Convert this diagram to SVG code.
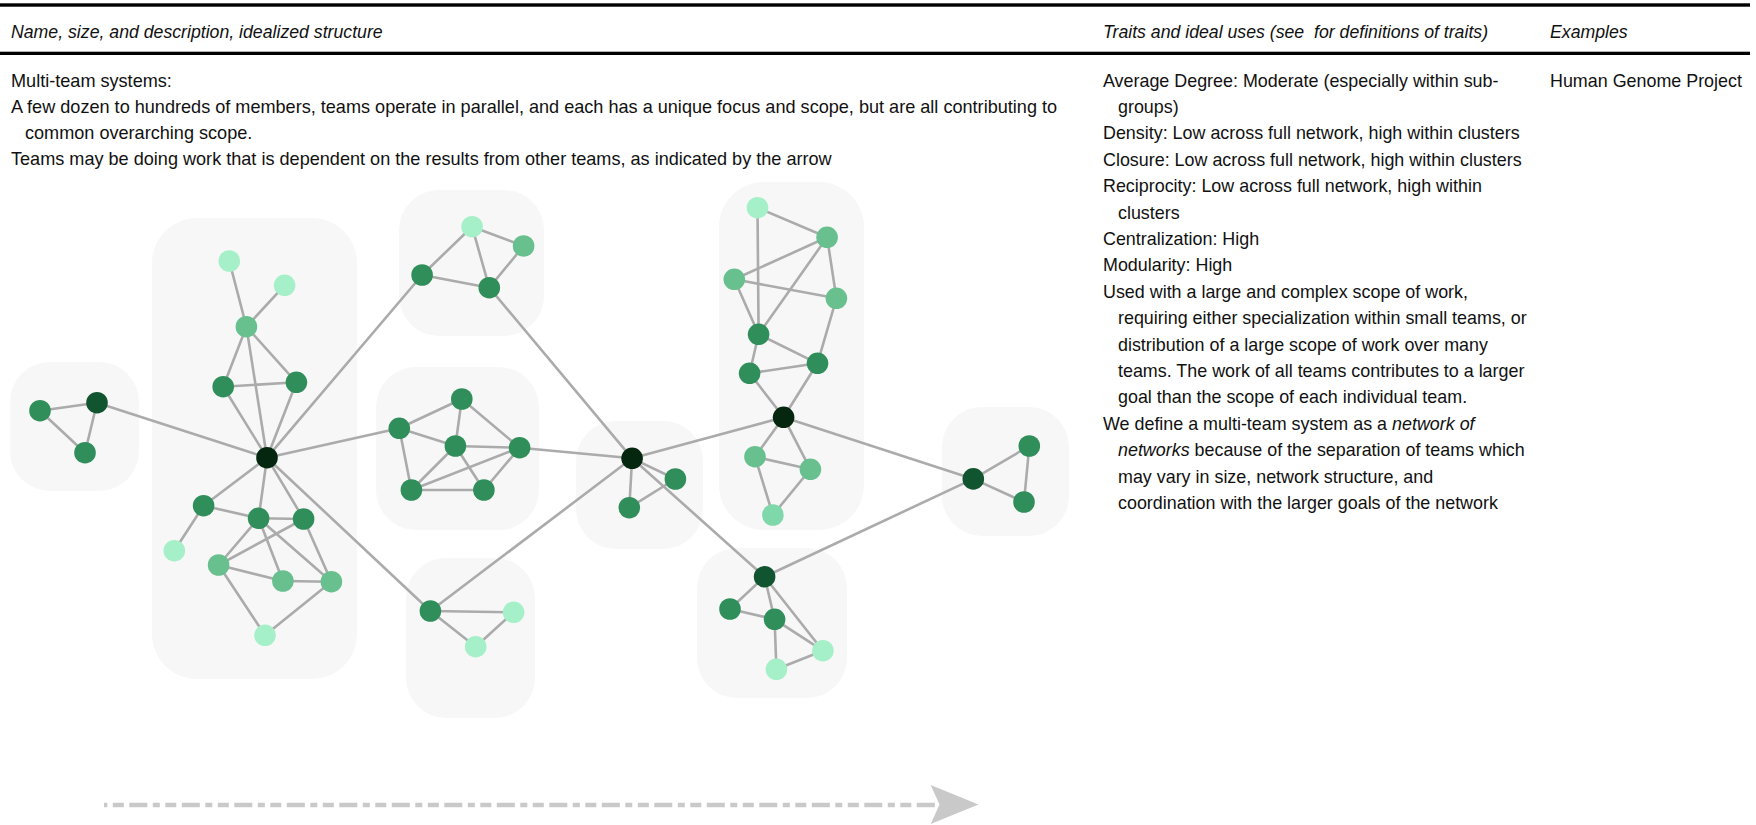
<svg xmlns="http://www.w3.org/2000/svg" width="1756" height="825" viewBox="0 0 1756 825">
<style>
.t{font-family:"Liberation Sans",Arial,sans-serif;font-size:18.1px;fill:#111}
.r{font-size:17.9px}
.i{font-style:italic}
.hd{font-size:17.7px}
.box{fill:#f7f7f7}
.e line{stroke:#ababab;stroke-width:2.6;stroke-linecap:round}
.hub{fill:#05260f}.dk{fill:#115530}.dm{fill:#2f8e5a}.ml{fill:#67c08e}.lt{fill:#a6f0c9}.lm{fill:#7fd8a9}
</style>
<rect x="0" y="3.3" width="1750" height="3.4" fill="#000"/>
<rect x="0" y="51.7" width="1750" height="3.3" fill="#000"/>
<g id="header">
<text class="t i hd" x="11" y="38">Name, size, and description, idealized structure</text>
<text class="t i hd" x="1103" y="38" xml:space="preserve">Traits and ideal uses (see  for definitions of traits)</text>
<text class="t i hd" x="1550" y="38">Examples</text>
</g>
<g id="description">
<text class="t" x="11" y="86.5">Multi-team systems:</text>
<text class="t" x="11" y="112.8">A few dozen to hundreds of members, teams operate in parallel, and each has a unique focus and scope, but are all contributing to</text>
<text class="t" x="25" y="139.1">common overarching scope.</text>
<text class="t" x="11" y="165.4">Teams may be doing work that is dependent on the results from other teams, as indicated by the arrow</text>
</g>
<g id="traits">
<text class="t r" x="1103" y="86.5">Average Degree: Moderate (especially within sub-</text>
<text class="t r" x="1118" y="112.9">groups)</text>
<text class="t r" x="1103" y="139.3">Density: Low across full network, high within clusters</text>
<text class="t r" x="1103" y="165.7">Closure: Low across full network, high within clusters</text>
<text class="t r" x="1103" y="192.1">Reciprocity: Low across full network, high within</text>
<text class="t r" x="1118" y="218.5">clusters</text>
<text class="t r" x="1103" y="244.9">Centralization: High</text>
<text class="t r" x="1103" y="271.3">Modularity: High</text>
<text class="t r" x="1103" y="297.7">Used with a large and complex scope of work,</text>
<text class="t r" x="1118" y="324.1">requiring either specialization within small teams, or</text>
<text class="t r" x="1118" y="350.5">distribution of a large scope of work over many</text>
<text class="t r" x="1118" y="376.9">teams. The work of all teams contributes to a larger</text>
<text class="t r" x="1118" y="403.3">goal than the scope of each individual team.</text>
<text class="t r" x="1103" y="429.7">We define a multi-team system as a <tspan class="i">network of</tspan></text>
<text class="t r" x="1118" y="456.1"><tspan class="i">networks</tspan> because of the separation of teams which</text>
<text class="t r" x="1118" y="482.5">may vary in size, network structure, and</text>
<text class="t r" x="1118" y="508.9">coordination with the larger goals of the network</text>
</g>
<g id="examples">
<text class="t r" x="1550" y="86.5">Human Genome Project</text>
</g>
<g id="clusters">
<rect id="team1" class="box" x="10" y="362" width="129" height="129" rx="40"/>
<rect id="team2" class="box" x="152" y="218" width="205" height="461" rx="45"/>
<rect id="team3" class="box" x="399" y="190" width="145" height="146" rx="40"/>
<rect id="team4" class="box" x="376" y="367" width="163" height="163" rx="40"/>
<rect id="team5" class="box" x="406" y="558" width="129" height="160" rx="40"/>
<rect id="team6" class="box" x="576" y="421" width="127" height="128" rx="40"/>
<rect id="team7" class="box" x="719" y="182" width="145" height="348" rx="45"/>
<rect id="team8" class="box" x="697" y="548" width="150" height="150" rx="40"/>
<rect id="team9" class="box" x="942" y="407" width="127" height="129" rx="40"/>
</g>
<g id="connectors" class="e">
<line x1="40" y1="410.7" x2="97" y2="402.7"/>
<line x1="40" y1="410.7" x2="85" y2="452.7"/>
<line x1="97" y1="402.7" x2="85" y2="452.7"/>
<line x1="229.3" y1="261" x2="246.4" y2="326.7"/>
<line x1="284.6" y1="285.3" x2="246.4" y2="326.7"/>
<line x1="246.4" y1="326.7" x2="223.2" y2="386.7"/>
<line x1="246.4" y1="326.7" x2="296.4" y2="382.3"/>
<line x1="246.4" y1="326.7" x2="267" y2="457.7"/>
<line x1="223.2" y1="386.7" x2="296.4" y2="382.3"/>
<line x1="223.2" y1="386.7" x2="267" y2="457.7"/>
<line x1="296.4" y1="382.3" x2="267" y2="457.7"/>
<line x1="267" y1="457.7" x2="203.6" y2="505.7"/>
<line x1="267" y1="457.7" x2="258.6" y2="518.3"/>
<line x1="267" y1="457.7" x2="303.6" y2="519"/>
<line x1="203.6" y1="505.7" x2="174.3" y2="550.7"/>
<line x1="203.6" y1="505.7" x2="258.6" y2="518.3"/>
<line x1="258.6" y1="518.3" x2="303.6" y2="519"/>
<line x1="258.6" y1="518.3" x2="218.6" y2="565"/>
<line x1="258.6" y1="518.3" x2="282.9" y2="581"/>
<line x1="258.6" y1="518.3" x2="331.4" y2="581.7"/>
<line x1="303.6" y1="519" x2="218.6" y2="565"/>
<line x1="303.6" y1="519" x2="331.4" y2="581.7"/>
<line x1="218.6" y1="565" x2="282.9" y2="581"/>
<line x1="282.9" y1="581" x2="331.4" y2="581.7"/>
<line x1="218.6" y1="565" x2="265" y2="635.3"/>
<line x1="331.4" y1="581.7" x2="265" y2="635.3"/>
<line x1="472.1" y1="226.7" x2="523.6" y2="246"/>
<line x1="472.1" y1="226.7" x2="422.1" y2="275"/>
<line x1="472.1" y1="226.7" x2="489.3" y2="287.7"/>
<line x1="523.6" y1="246" x2="489.3" y2="287.7"/>
<line x1="422.1" y1="275" x2="489.3" y2="287.7"/>
<line x1="399.3" y1="428.3" x2="461.8" y2="399"/>
<line x1="461.8" y1="399" x2="455.4" y2="446"/>
<line x1="461.8" y1="399" x2="519.6" y2="447.7"/>
<line x1="399.3" y1="428.3" x2="455.4" y2="446"/>
<line x1="399.3" y1="428.3" x2="411.4" y2="490"/>
<line x1="455.4" y1="446" x2="519.6" y2="447.7"/>
<line x1="455.4" y1="446" x2="411.4" y2="490"/>
<line x1="455.4" y1="446" x2="483.9" y2="490"/>
<line x1="519.6" y1="447.7" x2="411.4" y2="490"/>
<line x1="519.6" y1="447.7" x2="483.9" y2="490"/>
<line x1="411.4" y1="490" x2="483.9" y2="490"/>
<line x1="430.4" y1="611" x2="513.6" y2="612.3"/>
<line x1="430.4" y1="611" x2="475.7" y2="646.7"/>
<line x1="513.6" y1="612.3" x2="475.7" y2="646.7"/>
<line x1="632.1" y1="458.3" x2="675.4" y2="479"/>
<line x1="632.1" y1="458.3" x2="629.3" y2="507.7"/>
<line x1="675.4" y1="479" x2="629.3" y2="507.7"/>
<line x1="757.5" y1="207.7" x2="827.1" y2="237.3"/>
<line x1="757.5" y1="207.7" x2="758.6" y2="334.3"/>
<line x1="827.1" y1="237.3" x2="734.3" y2="279.3"/>
<line x1="827.1" y1="237.3" x2="836.4" y2="298.3"/>
<line x1="827.1" y1="237.3" x2="758.6" y2="334.3"/>
<line x1="734.3" y1="279.3" x2="836.4" y2="298.3"/>
<line x1="734.3" y1="279.3" x2="758.6" y2="334.3"/>
<line x1="836.4" y1="298.3" x2="817.5" y2="363.3"/>
<line x1="758.6" y1="334.3" x2="749.6" y2="373.3"/>
<line x1="758.6" y1="334.3" x2="817.5" y2="363.3"/>
<line x1="749.6" y1="373.3" x2="817.5" y2="363.3"/>
<line x1="749.6" y1="373.3" x2="783.6" y2="417.3"/>
<line x1="817.5" y1="363.3" x2="783.6" y2="417.3"/>
<line x1="783.6" y1="417.3" x2="755" y2="456.7"/>
<line x1="783.6" y1="417.3" x2="810.4" y2="469.3"/>
<line x1="755" y1="456.7" x2="810.4" y2="469.3"/>
<line x1="755" y1="456.7" x2="772.9" y2="515"/>
<line x1="810.4" y1="469.3" x2="772.9" y2="515"/>
<line x1="764.6" y1="576.7" x2="730" y2="609"/>
<line x1="764.6" y1="576.7" x2="774.6" y2="619.3"/>
<line x1="764.6" y1="576.7" x2="822.9" y2="650.7"/>
<line x1="730" y1="609" x2="774.6" y2="619.3"/>
<line x1="774.6" y1="619.3" x2="822.9" y2="650.7"/>
<line x1="774.6" y1="619.3" x2="776.4" y2="669.3"/>
<line x1="822.9" y1="650.7" x2="776.4" y2="669.3"/>
<line x1="973.3" y1="478.9" x2="1029.3" y2="446"/>
<line x1="973.3" y1="478.9" x2="1024" y2="502"/>
<line x1="1029.3" y1="446" x2="1024" y2="502"/>
<line x1="97" y1="402.7" x2="267" y2="457.7"/>
<line x1="267" y1="457.7" x2="422.1" y2="275"/>
<line x1="267" y1="457.7" x2="399.3" y2="428.3"/>
<line x1="267" y1="457.7" x2="430.4" y2="611"/>
<line x1="489.3" y1="287.7" x2="632.1" y2="458.3"/>
<line x1="519.6" y1="447.7" x2="632.1" y2="458.3"/>
<line x1="430.4" y1="611" x2="632.1" y2="458.3"/>
<line x1="632.1" y1="458.3" x2="783.6" y2="417.3"/>
<line x1="632.1" y1="458.3" x2="764.6" y2="576.7"/>
<line x1="783.6" y1="417.3" x2="973.3" y2="478.9"/>
<line x1="764.6" y1="576.7" x2="973.3" y2="478.9"/>
<line x1="104" y1="805" x2="937" y2="805" style="stroke:#c9c9c9;stroke-width:4.7;stroke-linecap:butt;stroke-dasharray:18 5.5 7 5.5 11 5.5;stroke-dashoffset:27.2"/>
<polygon points="930.7,785 978.5,804.5 930.7,824 939.5,804.5" fill="#c9c9c9"/>
</g>
<g id="n1a"><circle class="dm" cx="40" cy="410.7" r="10.8"/></g>
<g id="n1b"><circle class="dk" cx="97" cy="402.7" r="10.8"/></g>
<g id="n1c"><circle class="dm" cx="85" cy="452.7" r="10.8"/></g>
<g id="h1"><circle class="hub" cx="267" cy="457.7" r="10.8"/></g>
<g id="n2a"><circle class="lt" cx="229.3" cy="261" r="10.8"/></g>
<g id="n2b"><circle class="lt" cx="284.6" cy="285.3" r="10.8"/></g>
<g id="n2c"><circle class="ml" cx="246.4" cy="326.7" r="10.8"/></g>
<g id="n2d"><circle class="dm" cx="223.2" cy="386.7" r="10.8"/></g>
<g id="n2e"><circle class="dm" cx="296.4" cy="382.3" r="10.8"/></g>
<g id="n2f"><circle class="dm" cx="203.6" cy="505.7" r="10.8"/></g>
<g id="n2g"><circle class="lt" cx="174.3" cy="550.7" r="10.8"/></g>
<g id="n2h"><circle class="dm" cx="258.6" cy="518.3" r="10.8"/></g>
<g id="n2i"><circle class="dm" cx="303.6" cy="519" r="10.8"/></g>
<g id="n2j"><circle class="ml" cx="218.6" cy="565" r="10.8"/></g>
<g id="n2k"><circle class="ml" cx="282.9" cy="581" r="10.8"/></g>
<g id="n2l"><circle class="ml" cx="331.4" cy="581.7" r="10.8"/></g>
<g id="n2m"><circle class="lt" cx="265" cy="635.3" r="10.8"/></g>
<g id="n3a"><circle class="lt" cx="472.1" cy="226.7" r="10.8"/></g>
<g id="n3b"><circle class="ml" cx="523.6" cy="246" r="10.8"/></g>
<g id="n3c"><circle class="dm" cx="422.1" cy="275" r="10.8"/></g>
<g id="n3d"><circle class="dm" cx="489.3" cy="287.7" r="10.8"/></g>
<g id="n4a"><circle class="dm" cx="461.8" cy="399" r="10.8"/></g>
<g id="n4b"><circle class="dm" cx="399.3" cy="428.3" r="10.8"/></g>
<g id="n4c"><circle class="dm" cx="455.4" cy="446" r="10.8"/></g>
<g id="n4d"><circle class="dm" cx="519.6" cy="447.7" r="10.8"/></g>
<g id="n4e"><circle class="dm" cx="411.4" cy="490" r="10.8"/></g>
<g id="n4f"><circle class="dm" cx="483.9" cy="490" r="10.8"/></g>
<g id="n5a"><circle class="dm" cx="430.4" cy="611" r="10.8"/></g>
<g id="n5b"><circle class="lt" cx="513.6" cy="612.3" r="10.8"/></g>
<g id="n5c"><circle class="lt" cx="475.7" cy="646.7" r="10.8"/></g>
<g id="h2"><circle class="hub" cx="632.1" cy="458.3" r="10.8"/></g>
<g id="n6a"><circle class="dm" cx="675.4" cy="479" r="10.8"/></g>
<g id="n6b"><circle class="dm" cx="629.3" cy="507.7" r="10.8"/></g>
<g id="n7a"><circle class="lt" cx="757.5" cy="207.7" r="10.8"/></g>
<g id="n7b"><circle class="ml" cx="827.1" cy="237.3" r="10.8"/></g>
<g id="n7c"><circle class="ml" cx="734.3" cy="279.3" r="10.8"/></g>
<g id="n7d"><circle class="ml" cx="836.4" cy="298.3" r="10.8"/></g>
<g id="n7e"><circle class="dm" cx="758.6" cy="334.3" r="10.8"/></g>
<g id="n7f"><circle class="dm" cx="749.6" cy="373.3" r="10.8"/></g>
<g id="n7g"><circle class="dm" cx="817.5" cy="363.3" r="10.8"/></g>
<g id="h3"><circle class="hub" cx="783.6" cy="417.3" r="10.8"/></g>
<g id="n7h"><circle class="ml" cx="755" cy="456.7" r="10.8"/></g>
<g id="n7i"><circle class="ml" cx="810.4" cy="469.3" r="10.8"/></g>
<g id="n7j"><circle class="lm" cx="772.9" cy="515" r="10.8"/></g>
<g id="n8a"><circle class="dk" cx="764.6" cy="576.7" r="10.8"/></g>
<g id="n8b"><circle class="dm" cx="730" cy="609" r="10.8"/></g>
<g id="n8c"><circle class="dm" cx="774.6" cy="619.3" r="10.8"/></g>
<g id="n8d"><circle class="lt" cx="822.9" cy="650.7" r="10.8"/></g>
<g id="n8e"><circle class="lt" cx="776.4" cy="669.3" r="10.8"/></g>
<g id="n9a"><circle class="dk" cx="973.3" cy="478.9" r="10.8"/></g>
<g id="n9b"><circle class="dm" cx="1029.3" cy="446" r="10.8"/></g>
<g id="n9c"><circle class="dm" cx="1024" cy="502" r="10.8"/></g>
</svg>
